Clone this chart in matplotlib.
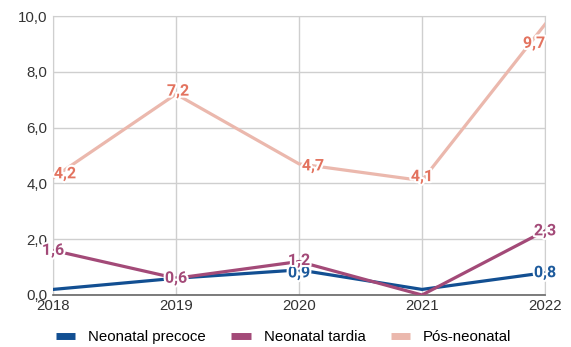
import matplotlib.pyplot as plt
import matplotlib.patheffects as pe
from matplotlib.ticker import FuncFormatter

anos = [2018, 2019, 2020, 2021, 2022]
precoce = [0.2, 0.6, 0.9, 0.2, 0.8]
tardia = [1.6, 0.6, 1.2, 0.0, 2.3]
pos_neo = [4.2, 7.2, 4.7, 4.1, 9.7]

# which points get a value label, and nudges (pixels) to keep them readable
rot_precoce = [None, None, (0, -3), None, (0, 0)]
rot_tardia = [(0, 0), (0, 0), (0, 1), None, (0, 0)]
rot_pos = [(12, 4), (2, 3), (14, -2), (0, 4), (-11, -19)]

c_precoce, c_precoce_txt = "#124f92", "#1d5a9c"
c_tardia, c_tardia_txt = "#a34a78", "#a34a78"
c_pos, c_pos_txt = "#ebb8ad", "#e3735f"

plt.rcParams['font.family'] = ['Liberation Sans', 'DejaVu Sans']

fig = plt.figure(figsize=(5.71, 3.47), dpi=100)
ax = fig.add_axes([53 / 571, 52 / 347, 492 / 571, 279 / 347])

ax.plot(anos, pos_neo, color=c_pos, lw=2.3, solid_joinstyle='round', zorder=3, label="Pós-neonatal")
ax.plot(anos, precoce, color=c_precoce, lw=2.3, solid_joinstyle='round', zorder=4, label="Neonatal precoce")
ax.plot(anos, tardia, color=c_tardia, lw=2.3, solid_joinstyle='round', zorder=5, label="Neonatal tardia")


def rotulos(vals, offs, cor):
    for x, v, o in zip(anos, vals, offs):
        if o is None:
            continue
        ax.annotate(f"{v:.1f}".replace(".", ","), (x, v), xytext=(o[0] * 0.72, o[1] * 0.72),
                    textcoords="offset points", ha="center", va="center",
                    fontsize=11.5, fontweight="bold", color=cor, family=['Roboto', 'DejaVu Sans'],
                    annotation_clip=False, zorder=6,
                    path_effects=[pe.withStroke(linewidth=3, foreground="white")])


rotulos(pos_neo, rot_pos, c_pos_txt)
rotulos(precoce, rot_precoce, c_precoce_txt)
rotulos(tardia, rot_tardia, c_tardia_txt)

ax.set_xlim(2018, 2022)
ax.set_ylim(0, 10)
ax.set_xticks(anos)
ax.set_yticks([0, 2, 4, 6, 8, 10])
ax.yaxis.set_major_formatter(FuncFormatter(lambda v, p: f"{v:.1f}".replace(".", ",")))
ax.grid(True, color="#cfcfcf", lw=1)
ax.set_axisbelow(True)
ax.tick_params(length=0, labelsize=10.8, labelcolor="#333333", pad=4)
ax.tick_params(axis="x", pad=3)
for s in ["top", "right", "left"]:
    ax.spines[s].set_color("#cfcfcf")
ax.spines["bottom"].set_color("#666666")
ax.spines["bottom"].set_linewidth(1.2)

h, l = ax.get_legend_handles_labels()
ordem = [1, 2, 0]
leg = fig.legend([h[i] for i in ordem], [l[i] for i in ordem], loc="center", bbox_to_anchor=(0.497, 10 / 347),
                 ncol=3, frameon=False, fontsize=10.8, handlelength=1.3, columnspacing=1.7, handletextpad=0.85)
for ln in leg.get_lines():
    ln.set_linewidth(5)
    ln.set_solid_capstyle('butt')

fig.savefig("out.png", dpi=100)
